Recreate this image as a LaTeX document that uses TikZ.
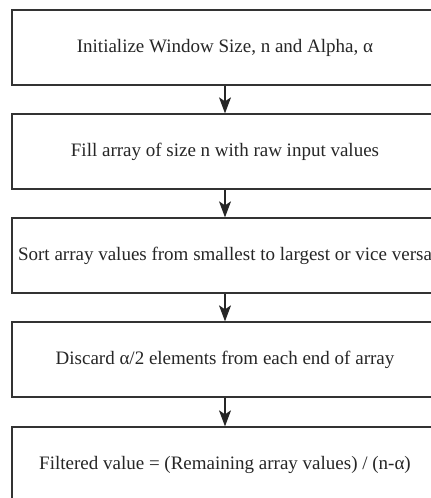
\documentclass[tikz,border=0pt]{standalone}
\usepackage{fontspec}
\setmainfont{Liberation Serif}
\usetikzlibrary{arrows.meta}
\begin{document}
\begin{tikzpicture}[x=1pt,y=1pt,
  stepbox/.style={draw=black!80,line width=1.3pt,fill=white,rectangle,
    minimum width=426pt,minimum height=75pt,inner sep=0pt,
    font=\fontsize{19}{22}\selectfont,text=black!85},
  flow/.style={draw=black!85,line width=1.1pt,
    -{Stealth[length=16pt,width=12pt,inset=4pt]}}]
\useasboundingbox (0,0) rectangle (431,498);
\clip (0,0) rectangle (431,498);
\fill[white] (0,0) rectangle (431,498);
\node[stepbox] (b1) at (225,450.5) {Initialize Window Size, n and Alpha, α};
\node[stepbox] (b2) at (225,346.5) {Fill array of size n with raw input values};
\node[stepbox] (b3) at (225,242.5) {Sort array values from smallest to largest or vice versa};
\node[stepbox] (b4) at (225,138.5) {Discard α/2 elements from each end of array};
\node[stepbox] (b5) at (225,33.5) {Filtered value = (Remaining array values) / (n-α)};
\draw[flow] (b1.south) -- (b2.north);
\draw[flow] (b2.south) -- (b3.north);
\draw[flow] (b3.south) -- (b4.north);
\draw[flow] (b4.south) -- (b5.north);
\end{tikzpicture}
\end{document}
